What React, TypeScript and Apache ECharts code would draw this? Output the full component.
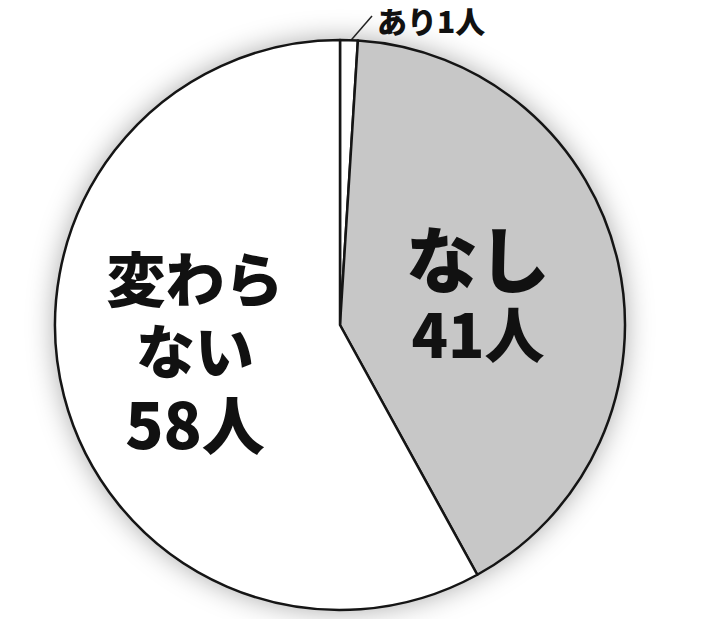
import React, { useEffect, useRef } from "react";
import * as echarts from "echarts";

const categories = ["あり", "なし", "変わらない"];
const values = [1, 41, 58];
const unit = "人";
const sliceColors = ["#ffffff", "#c7c7c7", "#ffffff"];

const FONT = "'Noto Sans CJK JP', 'Noto Sans', sans-serif";

export default function App() {
  const ref = useRef<HTMLDivElement>(null);
  useEffect(() => {
    document.body.style.margin = "0";
    const chart = echarts.init(ref.current!, null, { renderer: "svg" });
    const total = values.reduce((a, b) => a + b, 0);
    const center = [340, 325];
    const radius = 285;
    chart.setOption({
      animation: false,
      backgroundColor: "#ffffff",
      series: [
        {
          type: "pie",
          silent: true,
          center,
          radius,
          z: 1,
          label: { show: false },
          labelLine: { show: false },
          data: [
            {
              value: total,
              itemStyle: {
                color: "#ffffff",
                shadowBlur: 28,
                shadowColor: "rgba(0,0,0,0.35)",
              },
            },
          ],
        },
        {
          type: "pie",
          center,
          radius,
          z: 2,
          startAngle: 90,
          clockwise: true,
          avoidLabelOverlap: false,
          itemStyle: { borderColor: "#151515", borderWidth: 2.5 },
          data: categories.map((c, i) => {
            const base: any = {
              name: c,
              value: values[i],
              itemStyle: { color: sliceColors[i] },
            };
            if (i === 0) {
              base.label = {
                show: true,
                position: "outside",
                formatter: `${c}${values[i]}${unit}`,
                fontFamily: FONT,
                fontWeight: 900,
                fontSize: 30,
                color: "#111",
              };
              base.labelLine = {
                show: true,
                length: 20,
                length2: 0,
                lineStyle: { color: "#222", width: 1.5 },
              };
            } else if (i === 1) {
              base.label = {
                show: true,
                position: "inside",
                formatter: `{a|${c}}\n{b|${values[i]}${unit}}`,
                rich: {
                  a: { fontFamily: FONT, fontWeight: 900, fontSize: 72, lineHeight: 82, color: "#111" },
                  b: { fontFamily: FONT, fontWeight: 900, fontSize: 60, lineHeight: 70, color: "#111" },
                },
              };
            } else {
              base.label = {
                show: true,
                position: "inside",
                formatter: `{a|変わら}\n{a|ない}\n{b|${values[i]}${unit}}`,
                rich: {
                  a: { fontFamily: FONT, fontWeight: 900, fontSize: 59, lineHeight: 72, color: "#111" },
                  b: { fontFamily: FONT, fontWeight: 900, fontSize: 63, lineHeight: 74, color: "#111" },
                },
              };
            }
            return base;
          }),
          labelLayout: (params: any) => {
            if (params.dataIndex === 0) {
              return {
                x: 377,
                y: 20,
                align: "left",
                verticalAlign: "middle",
                labelLinePoints: [
                  [346, 46],
                  [372, 16],
                  [372, 16],
                ],
              };
            }
            if (params.dataIndex === 1) {
              return { x: 478, y: 290, align: "center", verticalAlign: "middle" };
            }
            return { x: 195, y: 349, align: "center", verticalAlign: "middle" };
          },
        },
      ],
    });
    return () => chart.dispose();
  }, []);
  return (
    <div
      ref={ref}
      style={{ position: "fixed", left: 0, top: 0, width: 727, height: 619 }}
    />
  );
}
